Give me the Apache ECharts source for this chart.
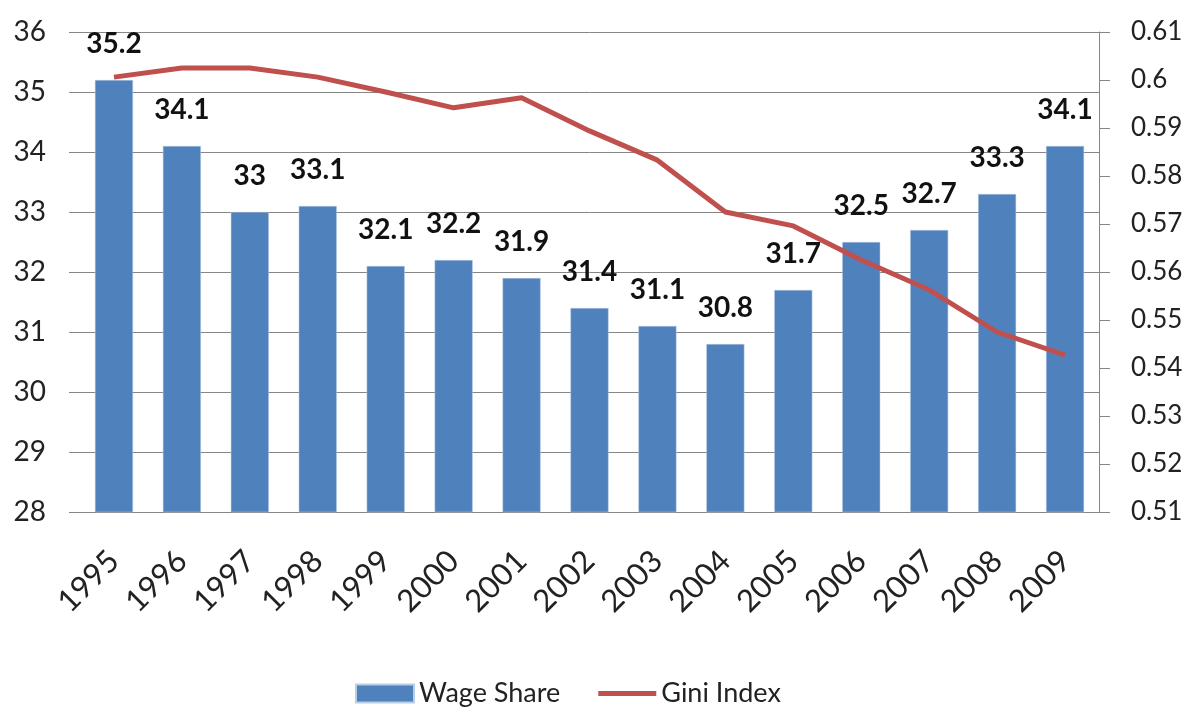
<!DOCTYPE html>
<html>
<head>
<meta charset="utf-8">
<script src="https://cdn.jsdelivr.net/npm/echarts@6/dist/echarts.min.js"></script>
<style>
  html, body { margin: 0; padding: 0; background: #fff; }
  #chart { width: 1196px; height: 711px; }
</style>
</head>
<body>
<div id="chart"></div>
<script>
var years = ['1995', '1996', '1997', '1998', '1999', '2000', '2001', '2002',
             '2003', '2004', '2005', '2006', '2007', '2008', '2009'];
var wageShare = [35.2, 34.1, 33, 33.1, 32.1, 32.2, 31.9, 31.4, 31.1, 30.8, 31.7, 32.5, 32.7, 33.3, 34.1];
var giniIndex = [0.6006, 0.6025, 0.6025, 0.6006, 0.5975, 0.5942, 0.5963, 0.5894,
                 0.5833, 0.5725, 0.5696, 0.5625, 0.5563, 0.5475, 0.5427];

var chart = echarts.init(document.getElementById('chart'));
var font = 'Lato, "Open Sans", sans-serif';
var option = {
    animation: false,
    backgroundColor: '#fff',
    textStyle: {fontFamily: font},
    grid: {left: 80, right: 97, top: 32, bottom: 199},
    legend: {
        bottom: -1,
        left: 350,
        itemWidth: 58,
        itemHeight: 18,
        itemGap: 38,
        textStyle: {fontSize: 27, color: '#222', fontFamily: font},
        data: [
            {name: 'Wage Share', icon: 'rect'},
            {name: 'Gini Index', icon: 'path://M0,0 L60,0 L60,5 L0,5 Z'}
        ]
    },
    xAxis: {
        type: 'category',
        data: years,
        axisLine: {show: true, lineStyle: {color: '#868686', width: 1}},
        axisTick: {show: false},
        axisLabel: {rotate: 45, fontSize: 31, color: '#222', margin: 44, fontFamily: font}
    },
    yAxis: [
        {
            type: 'value',
            min: 28,
            max: 36,
            interval: 1,
            axisLine: {show: false},
            axisTick: {show: true, length: 11, lineStyle: {color: '#868686'}},
            splitLine: {lineStyle: {color: '#868686', width: 1}},
            axisLabel: {fontSize: 28, color: '#222', margin: 34, fontFamily: font}
        },
        {
            type: 'value',
            min: 0.51,
            max: 0.61,
            interval: 0.01,
            position: 'right',
            axisLine: {show: true, lineStyle: {color: '#868686', width: 1}},
            axisTick: {show: true, length: 11, lineStyle: {color: '#868686'}},
            splitLine: {show: false},
            axisLabel: {
                fontSize: 26, color: '#222', margin: 32, fontFamily: font,
                formatter: function (v) { return String(+v.toFixed(2)); }
            }
        }
    ],
    series: [
        {
            name: 'Wage Share',
            type: 'bar',
            yAxisIndex: 0,
            barWidth: '56%',
            data: wageShare,
            itemStyle: {color: '#4F81BD', borderColor: '#B9CDE5', borderWidth: 0.5},
            label: {
                show: true,
                position: 'top',
                distance: 22,
                fontSize: 28,
                fontWeight: 'bold',
                color: '#111',
                fontFamily: font
            }
        },
        {
            name: 'Gini Index',
            type: 'line',
            yAxisIndex: 1,
            data: giniIndex,
            symbol: 'none',
            lineStyle: {color: '#C0504D', width: 5},
            itemStyle: {color: '#C0504D'}
        }
    ]
};
chart.setOption(option);
</script>
</body>
</html>
